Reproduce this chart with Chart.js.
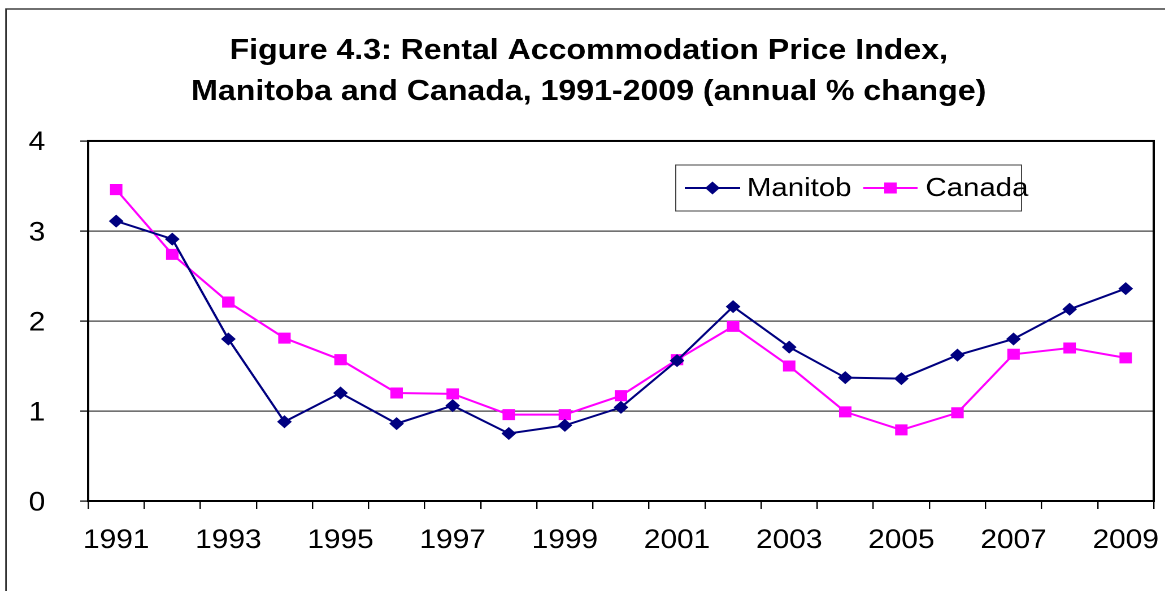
<!DOCTYPE html>
<html>
<head>
<meta charset="utf-8">
<script src="https://cdn.jsdelivr.net/npm/chart.js@4.4.1/dist/chart.umd.min.js"></script>
<style>
  html, body { margin: 0; padding: 0; background: #fff; overflow: hidden; }
  /* the reference picture is stretched sideways, so is this one */
  #wrap { width: 1031px; height: 591px; transform: scaleX(1.13); transform-origin: 0 0; }
</style>
</head>
<body>
<div id="wrap"><canvas id="chart"></canvas></div>
<script>
const years = ['1991', '1992', '1993', '1994', '1995', '1996', '1997', '1998', '1999', '2000',
  '2001', '2002', '2003', '2004', '2005', '2006', '2007', '2008', '2009'];
const manitoba = [3.11, 2.91, 1.80, 0.88, 1.20, 0.86, 1.06, 0.75, 0.84, 1.04,
  1.56, 2.16, 1.71, 1.37, 1.36, 1.62, 1.80, 2.13, 2.36];
const canada = [3.46, 2.74, 2.21, 1.81, 1.57, 1.20, 1.19, 0.96, 0.96, 1.17,
  1.57, 1.94, 1.50, 0.99, 0.79, 0.98, 1.63, 1.70, 1.59];
const seriesNames = ['Manitob', 'Canada'];
const titleLines = ['Figure 4.3: Rental Accommodation Price Index,',
  'Manitoba and Canada, 1991-2009 (annual % change)'];

const FONT = "'Liberation Sans', Arial, sans-serif";

// outer frame, plot border and the boxed legend
const frame = {
  id: 'frame',
  beforeDraw(chart) {
    const ctx = chart.ctx;
    ctx.save();
    ctx.fillStyle = '#fff';
    ctx.fillRect(0, 0, chart.width, chart.height);
    ctx.strokeStyle = '#333';
    ctx.lineWidth = 1.4;
    ctx.strokeRect(5.3, 9, chart.width + 50, chart.height + 50);
    ctx.restore();
  },
  beforeDatasetsDraw(chart) {
    const {ctx, chartArea: a} = chart;
    ctx.save();
    ctx.strokeStyle = '#000';
    ctx.lineWidth = 2;
    ctx.strokeRect(a.left, a.top, a.right - a.left, a.bottom - a.top);
    ctx.restore();
  },
  afterDraw(chart) {
    const ctx = chart.ctx;
    const box = {x: 598, y: 165, w: 306, h: 46};
    const slots = [{x0: 606, x1: 655, tx: 661}, {x0: 764, x1: 812, tx: 819}];
    const cy = box.y + box.h / 2;
    ctx.save();
    ctx.fillStyle = '#fff';
    ctx.fillRect(box.x, box.y, box.w, box.h);
    ctx.strokeStyle = '#444';
    ctx.lineWidth = 1;
    ctx.strokeRect(box.x, box.y, box.w, box.h);
    chart.data.datasets.forEach((ds, i) => {
      const s = slots[i];
      ctx.strokeStyle = ds.borderColor;
      ctx.lineWidth = ds.borderWidth;
      ctx.beginPath();
      ctx.moveTo(s.x0, cy);
      ctx.lineTo(s.x1, cy);
      ctx.stroke();
      ctx.fillStyle = ds.pointBackgroundColor;
      Chart.helpers.drawPoint(ctx, {pointStyle: ds.pointStyle, radius: ds.pointRadius, rotation: 0, borderWidth: 0},
        (s.x0 + s.x1) / 2, cy);
      ctx.fillStyle = '#000';
      ctx.font = '26px ' + FONT;
      ctx.textBaseline = 'middle';
      ctx.textAlign = 'left';
      ctx.fillText(ds.label, s.tx, cy + 1);
    });
    ctx.restore();
  }
};

new Chart(document.getElementById('chart'), {
  type: 'line',
  data: {
    labels: years,
    datasets: [{
      label: seriesNames[0],
      data: manitoba,
      borderColor: '#000080',
      backgroundColor: '#000080',
      pointBackgroundColor: '#000080',
      pointBorderWidth: 0,
      pointStyle: 'rectRot',
      pointRadius: 6.5,
      borderWidth: 2,
      tension: 0
    }, {
      label: seriesNames[1],
      data: canada,
      borderColor: '#FF00FF',
      backgroundColor: '#FF00FF',
      pointBackgroundColor: '#FF00FF',
      pointBorderWidth: 0,
      pointStyle: 'rect',
      pointRadius: 7.8,
      borderWidth: 2,
      tension: 0
    }]
  },
  options: {
    responsive: true,
    maintainAspectRatio: false,
    animation: false,
    devicePixelRatio: 2,
    layout: { padding: { left: 21, right: 10, top: 0, bottom: 30 } },
    plugins: {
      legend: { display: false },
      tooltip: { enabled: false },
      title: {
        display: true,
        text: titleLines,
        color: '#000',
        font: { family: FONT, size: 28.4, weight: 'bold', lineHeight: 1.45 },
        padding: { top: 30.5, bottom: 28.1 }
      }
    },
    scales: {
      x: {
        offset: true,
        grid: { offset: true, drawOnChartArea: false, color: '#000', tickLength: 8, lineWidth: 1.2 },
        border: { color: '#000', width: 2 },
        ticks: {
          autoSkip: false,
          maxRotation: 0,
          padding: 16,
          color: '#000',
          font: { family: FONT, size: 26.4 },
          callback(value, index) { return index % 2 === 0 ? this.getLabelForValue(value) : ''; }
        },
        afterFit(scale) {
          scale.height = 60;
          scale.paddingLeft = 0;
          scale.paddingRight = 0;
        }
      },
      y: {
        min: 0,
        max: 4,
        grid: { color: '#444', lineWidth: 1.2, tickColor: '#000', tickLength: 7 },
        border: { color: '#000', width: 2 },
        ticks: {
          stepSize: 1,
          padding: 31,
          labelOffset: 2,
          color: '#000',
          font: { family: FONT, size: 26.4 }
        },
        afterFit(scale) { scale.width = 57; }
      }
    }
  },
  plugins: [frame]
});
</script>
</body>
</html>
